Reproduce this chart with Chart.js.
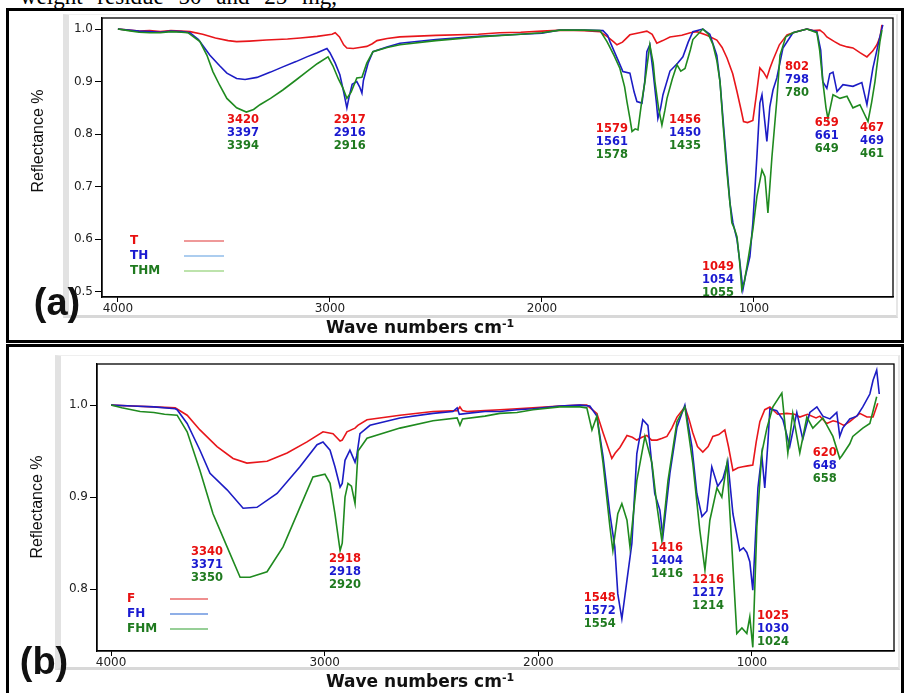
<!DOCTYPE html>
<html>
<head>
<meta charset="utf-8">
<script src="https://cdn.jsdelivr.net/npm/chart.js@4.4.0/dist/chart.umd.min.js"></script>
<style>
  body { margin:0; width:906px; height:693px; overflow:hidden; background:#fff; position:relative; font-family:"Liberation Sans", Arial, sans-serif; }
  .abs { position:absolute; }
  .box { position:absolute; border:3px solid #000; box-sizing:border-box; }
  .frame { position:absolute; background:#fff; box-sizing:border-box; border-left:6px solid #e2e2e2; border-bottom:3px solid #d8d8d8; border-top:1px solid #efefef; border-right:2px solid #e6e6e6; }
  .ytitle { position:absolute; font-size:16px; color:#111; transform:translate(-50%,-50%) rotate(-90deg); white-space:nowrap; }
  .xtitle { position:absolute; font-family:"DejaVu Sans"; font-weight:bold; font-size:17px; color:#111; transform:translate(-50%,-50%); white-space:nowrap; }
  .xtitle sup { font-size:11px; }
  .tag { position:absolute; font-weight:bold; font-size:38px; color:#111; transform:translate(-50%,-50%); }
  canvas { position:absolute; left:0; }
</style>
</head>
<body>
<div class="abs" style="left:20px;top:-16px;font-family:'Liberation Serif';font-size:23px;word-spacing:9px;">weight residue 50 and 25 mg,</div>
<div class="box" style="left:6px;top:8px;width:898px;height:335px;"></div>
<div class="box" style="left:6px;top:344px;width:898px;height:360px;"></div>
<div class="frame" style="left:63px;top:14px;width:835px;height:304px;"></div>
<div class="frame" style="left:55px;top:355px;width:845px;height:315px;"></div>
<canvas id="chartA" width="906" height="340" style="top:0"></canvas>
<canvas id="chartB" width="906" height="353" style="top:340px"></canvas>
<div class="ytitle" style="left:38px;top:141px;">Reflectance %</div>
<div class="ytitle" style="left:37px;top:507px;">Reflectance %</div>
<div class="xtitle" style="left:420px;top:327px;">Wave numbers cm<sup>-1</sup></div>
<div class="xtitle" style="left:420px;top:681px;">Wave numbers cm<sup>-1</sup></div>
<div class="tag" style="left:57px;top:302px;">(a)</div>
<div class="tag" style="left:44px;top:661px;">(b)</div>
<script>
// tick labels
var xTicks = [4000, 3000, 2000, 1000];
var yTicksA = [0.5, 0.6, 0.7, 0.8, 0.9, 1.0];
var yTicksB = [0.8, 0.9, 1.0];

// panel (a) spectra: [wavenumber, reflectance]
var T = [[4000,1.0],[3950,0.998],[3900,0.996],[3850,0.997],[3800,0.995],[3750,0.997],[3700,0.996],[3660,0.995],[3600,0.990],[3540,0.983],[3480,0.978],[3440,0.976],[3380,0.977],[3300,0.979],[3200,0.981],[3140,0.983],[3060,0.986],[2990,0.990],[2975,0.993],[2955,0.985],[2935,0.970],[2920,0.964],[2890,0.963],[2860,0.965],[2826,0.967],[2800,0.972],[2778,0.978],[2730,0.982],[2670,0.985],[2500,0.988],[2300,0.990],[2200,0.993],[2100,0.994],[2000,0.996],[1900,0.998],[1800,0.997],[1726,0.995],[1690,0.985],[1660,0.975],[1646,0.970],[1620,0.975],[1585,0.989],[1540,0.993],[1505,0.996],[1480,0.990],[1458,0.973],[1430,0.978],[1396,0.985],[1340,0.988],[1300,0.993],[1269,0.995],[1222,0.988],[1175,0.979],[1150,0.965],[1127,0.945],[1100,0.915],[1080,0.881],[1060,0.845],[1049,0.824],[1030,0.822],[1005,0.826],[990,0.870],[972,0.926],[955,0.918],[939,0.907],[925,0.925],[910,0.941],[880,0.970],[844,0.989],[800,0.995],[750,1.000],[720,0.997],[689,0.998],[670,0.992],[656,0.985],[620,0.976],[594,0.970],[560,0.966],[533,0.964],[500,0.955],[467,0.947],[440,0.958],[420,0.970],[405,0.985],[396,1.008]];
var TH = [[4000,1.0],[3950,0.998],[3900,0.996],[3850,0.995],[3800,0.994],[3750,0.996],[3700,0.995],[3660,0.993],[3620,0.980],[3566,0.950],[3520,0.930],[3486,0.916],[3440,0.906],[3400,0.904],[3344,0.908],[3280,0.918],[3222,0.928],[3160,0.938],[3109,0.947],[3060,0.955],[3014,0.963],[3000,0.955],[2975,0.935],[2953,0.913],[2935,0.880],[2920,0.850],[2910,0.870],[2895,0.895],[2873,0.900],[2860,0.890],[2849,0.878],[2842,0.902],[2820,0.935],[2797,0.957],[2731,0.966],[2670,0.973],[2500,0.980],[2300,0.986],[2100,0.990],[2000,0.992],[1915,0.998],[1800,0.998],[1712,0.997],[1690,0.988],[1679,0.976],[1640,0.940],[1618,0.919],[1585,0.916],[1565,0.880],[1552,0.862],[1528,0.859],[1515,0.900],[1505,0.957],[1491,0.970],[1476,0.920],[1460,0.860],[1453,0.830],[1440,0.850],[1429,0.875],[1396,0.920],[1360,0.935],[1335,0.947],[1310,0.975],[1288,0.995],[1241,1.000],[1208,0.990],[1175,0.950],[1160,0.900],[1140,0.800],[1113,0.669],[1099,0.631],[1080,0.600],[1066,0.555],[1052,0.504],[1040,0.530],[1019,0.567],[1005,0.631],[986,0.757],[972,0.859],[962,0.875],[948,0.821],[939,0.786],[925,0.852],[910,0.884],[892,0.907],[863,0.964],[816,0.993],[750,1.000],[703,0.995],[685,0.960],[675,0.900],[656,0.887],[642,0.915],[627,0.918],[608,0.881],[580,0.894],[533,0.891],[491,0.898],[467,0.856],[439,0.925],[406,0.985],[392,1.008]];
var THM = [[4000,1.0],[3950,0.997],[3900,0.994],[3850,0.993],[3800,0.993],[3750,0.995],[3700,0.994],[3670,0.993],[3613,0.976],[3580,0.950],[3552,0.919],[3520,0.893],[3486,0.868],[3440,0.850],[3394,0.842],[3360,0.847],[3330,0.856],[3280,0.868],[3222,0.884],[3160,0.903],[3109,0.919],[3060,0.934],[3009,0.947],[2986,0.930],[2960,0.905],[2939,0.888],[2920,0.868],[2900,0.880],[2873,0.907],[2849,0.908],[2826,0.935],[2797,0.957],[2730,0.965],[2670,0.970],[2500,0.978],[2300,0.985],[2100,0.990],[2000,0.993],[1915,0.998],[1800,0.998],[1726,0.997],[1693,0.976],[1660,0.950],[1632,0.925],[1610,0.890],[1599,0.862],[1585,0.830],[1575,0.805],[1560,0.810],[1547,0.808],[1530,0.860],[1514,0.900],[1491,0.970],[1475,0.935],[1467,0.900],[1450,0.850],[1434,0.817],[1420,0.845],[1410,0.868],[1385,0.905],[1363,0.932],[1345,0.920],[1325,0.925],[1300,0.960],[1288,0.980],[1241,1.000],[1215,0.990],[1193,0.970],[1175,0.940],[1160,0.900],[1146,0.821],[1127,0.726],[1104,0.631],[1092,0.620],[1080,0.605],[1068,0.560],[1057,0.504],[1045,0.520],[1033,0.548],[1005,0.618],[986,0.681],[962,0.732],[948,0.719],[934,0.650],[925,0.700],[915,0.757],[892,0.865],[877,0.950],[850,0.985],[816,0.993],[750,1.000],[703,0.993],[690,0.960],[675,0.900],[660,0.850],[651,0.830],[640,0.850],[627,0.875],[594,0.868],[561,0.872],[533,0.850],[500,0.856],[462,0.824],[445,0.860],[429,0.900],[406,0.975],[396,0.998]];

// panel (b) spectra
var F = [[4000,1.000],[3900,0.999],[3800,0.998],[3700,0.997],[3644,0.989],[3584,0.973],[3504,0.955],[3429,0.942],[3364,0.937],[3270,0.939],[3176,0.948],[3083,0.960],[3008,0.971],[2961,0.969],[2928,0.961],[2918,0.962],[2896,0.971],[2858,0.975],[2845,0.978],[2802,0.984],[2648,0.989],[2493,0.993],[2380,0.994],[2367,0.998],[2355,0.994],[2334,0.993],[2250,0.994],[2180,0.995],[2100,0.996],[2025,0.997],[1900,0.999],[1805,1.000],[1773,1.000],[1726,0.991],[1697,0.970],[1656,0.942],[1640,0.948],[1618,0.954],[1585,0.967],[1560,0.965],[1539,0.962],[1515,0.965],[1492,0.967],[1470,0.962],[1445,0.962],[1420,0.964],[1398,0.966],[1375,0.975],[1351,0.987],[1314,0.998],[1295,0.985],[1277,0.970],[1255,0.955],[1230,0.949],[1205,0.955],[1183,0.966],[1155,0.968],[1127,0.973],[1110,0.955],[1089,0.929],[1065,0.932],[1043,0.933],[1020,0.934],[996,0.935],[980,0.960],[963,0.982],[940,0.995],[916,0.998],[880,0.990],[837,0.991],[800,0.990],[776,0.987],[740,0.990],[700,0.986],[682,0.988],[650,0.980],[620,0.983],[603,0.982],[570,0.978],[542,0.982],[495,0.991],[462,0.987],[433,0.987],[411,1.002]];
var FH = [[4000,1.000],[3900,0.999],[3800,0.998],[3700,0.996],[3691,0.995],[3644,0.980],[3584,0.951],[3537,0.926],[3457,0.908],[3382,0.888],[3317,0.889],[3223,0.904],[3116,0.933],[3036,0.957],[3008,0.960],[2975,0.951],[2952,0.933],[2928,0.911],[2918,0.915],[2905,0.940],[2882,0.951],[2858,0.938],[2850,0.945],[2835,0.969],[2788,0.978],[2648,0.986],[2493,0.991],[2400,0.993],[2380,0.997],[2370,0.990],[2334,0.991],[2250,0.993],[2180,0.993],[2100,0.995],[2025,0.996],[1900,0.999],[1805,1.000],[1759,0.999],[1726,0.988],[1697,0.944],[1665,0.882],[1642,0.846],[1628,0.795],[1609,0.768],[1585,0.810],[1562,0.850],[1539,0.947],[1511,0.984],[1487,0.978],[1455,0.904],[1431,0.886],[1417,0.857],[1384,0.926],[1351,0.976],[1314,1.000],[1281,0.955],[1258,0.904],[1234,0.879],[1211,0.885],[1188,0.933],[1160,0.912],[1136,0.920],[1113,0.939],[1089,0.882],[1057,0.842],[1040,0.845],[1024,0.840],[1010,0.830],[996,0.799],[985,0.850],[972,0.910],[954,0.946],[940,0.910],[925,0.960],[916,0.996],[884,0.994],[855,0.984],[823,0.955],[790,0.992],[762,0.963],[729,0.992],[696,0.998],[668,0.988],[635,0.985],[603,0.992],[589,0.966],[575,0.975],[542,0.985],[509,0.988],[481,0.998],[448,1.012],[433,1.027],[416,1.038],[404,1.012]];
var FHM = [[4000,1.000],[3950,0.997],[3864,0.993],[3800,0.992],[3750,0.990],[3691,0.989],[3644,0.971],[3584,0.929],[3523,0.882],[3457,0.846],[3396,0.813],[3350,0.813],[3270,0.819],[3195,0.846],[3116,0.889],[3055,0.922],[2999,0.925],[2975,0.915],[2952,0.882],[2928,0.842],[2918,0.850],[2905,0.900],[2891,0.915],[2875,0.912],[2858,0.893],[2844,0.950],[2802,0.964],[2648,0.975],[2493,0.983],[2380,0.986],[2367,0.978],[2355,0.985],[2250,0.988],[2180,0.991],[2100,0.992],[2025,0.995],[1900,0.998],[1805,0.998],[1773,0.997],[1749,0.973],[1726,0.988],[1697,0.937],[1665,0.868],[1651,0.842],[1628,0.882],[1609,0.893],[1585,0.875],[1571,0.846],[1539,0.918],[1501,0.966],[1468,0.937],[1445,0.891],[1422,0.853],[1393,0.918],[1351,0.982],[1314,0.998],[1277,0.937],[1244,0.864],[1220,0.821],[1197,0.875],[1164,0.910],[1141,0.900],[1117,0.937],[1094,0.846],[1071,0.752],[1047,0.758],[1024,0.752],[1010,0.770],[996,0.737],[977,0.868],[954,0.948],[930,0.975],[902,0.998],[860,1.013],[832,0.948],[809,0.991],[776,0.948],[743,0.987],[715,0.975],[668,0.986],[621,0.966],[589,0.942],[579,0.945],[542,0.958],[528,0.966],[481,0.975],[448,0.980],[416,1.009]];

// peak labels: anchor (wavenumber, reflectance) and the three numbers
var peaksA = [
  {x:3410, y:0.827, t:['3420','3397','3394']},
  {x:2906, y:0.827, t:['2917','2916','2916']},
  {x:1670, y:0.810, t:['1579','1561','1578']},
  {x:1325, y:0.827, t:['1456','1450','1435']},
  {x:1170, y:0.548, t:['1049','1054','1055']},
  {x:797,  y:0.928, t:['802','798','780']},
  {x:656,  y:0.821, t:['659','661','649']},
  {x:443,  y:0.812, t:['467','469','461']}
];
var peaksB = [
  {x:3551, y:0.841, t:['3340','3371','3350']},
  {x:2905, y:0.833, t:['2918','2918','2920']},
  {x:1712, y:0.790, t:['1548','1572','1554']},
  {x:1398, y:0.845, t:['1416','1404','1416']},
  {x:1206, y:0.810, t:['1216','1217','1214']},
  {x:902,  y:0.771, t:['1025','1030','1024']},
  {x:659,  y:0.948, t:['620','648','658']}
];
var namesA = ['T', 'TH', 'THM'];
var namesB = ['F', 'FH', 'FHM'];

var textColors = ['#e81010', '#1a1ad0', '#1f7a1f'];
var lineColors = ['#e8161b', '#1c1cc4', '#1f8a1f'];

var decor = {
  id: 'decor',
  afterDatasetsDraw: function(chart, args, o) {
    var ctx = chart.ctx, a = chart.chartArea, xs = chart.scales.x, ys = chart.scales.y;
    ctx.save();
    ctx.strokeStyle = '#000';
    ctx.lineWidth = 1.3;
    ctx.strokeRect(a.left, a.top, a.right - a.left, a.bottom - a.top);
    ctx.font = 'bold 11.5px "DejaVu Sans"';
    ctx.textAlign = 'center';
    ctx.textBaseline = 'middle';
    o.peaks.forEach(function(p) {
      var px = xs.getPixelForValue(p.x), py = ys.getPixelForValue(p.y);
      p.t.forEach(function(s, i) {
        ctx.fillStyle = textColors[i];
        ctx.fillText(s, px, py + i * 13);
      });
    });
    // legend
    ctx.textAlign = 'left';
    ctx.font = 'bold 12px "DejaVu Sans"';
    o.names.forEach(function(n, i) {
      var y = a.bottom - o.legBottom + i * o.legStep;
      ctx.fillStyle = textColors[i];
      ctx.fillText(n, a.left + o.legText, y);
      ctx.strokeStyle = o.legColors[i];
      ctx.lineWidth = 1.2;
      ctx.beginPath();
      ctx.moveTo(a.left + o.legLine[0], y);
      ctx.lineTo(a.left + o.legLine[1], y);
      ctx.stroke();
    });
    ctx.restore();
  }
};

function makeChart(id, series, yTicks, xmin, xmax, ymin, ymax, pad, deco) {
  var sets = [];
  // draw green first, red last
  for (var i = series.length - 1; i >= 0; i--) {
    sets.push({
      data: series[i].map(function(p) { return {x: p[0], y: p[1]}; }),
      borderColor: lineColors[i],
      borderWidth: 1.6,
      pointRadius: 0,
      tension: 0,
      fill: false
    });
  }
  return new Chart(document.getElementById(id), {
    type: 'line',
    data: { datasets: sets },
    options: {
      responsive: false,
      animation: false,
      layout: { padding: pad },
      plugins: { legend: { display: false }, tooltip: { enabled: false }, decor: deco },
      scales: {
        x: {
          type: 'linear', reverse: true, min: xmin, max: xmax,
          afterBuildTicks: function(s) { s.ticks = xTicks.map(function(v) { return {value: v}; }); },
          afterFit: function(s) { s.height = 30; },
          grid: { display: true, drawOnChartArea: false, drawTicks: true, tickLength: 5, color: '#000' },
          border: { display: true, color: '#000', width: 1.3 },
          ticks: { color: '#222', font: { family: 'DejaVu Sans', size: 12 }, padding: 0, maxRotation: 0,
                   callback: function(v) { return String(v); } }
        },
        y: {
          min: ymin, max: ymax,
          afterBuildTicks: function(s) { s.ticks = yTicks.map(function(v) { return {value: v}; }); },
          afterFit: function(s) { s.width = 40; },
          grid: { display: true, drawOnChartArea: false, drawTicks: true, tickLength: 7, color: '#000' },
          border: { display: true, color: '#000', width: 1.3 },
          ticks: { color: '#222', font: { family: 'DejaVu Sans', size: 12 }, padding: 2,
                   callback: function(v) { return v.toFixed(1); } }
        }
      }
    },
    plugins: [decor]
  });
}

makeChart('chartA', [T, TH, THM], yTicksA, 344, 4075, 0.49, 1.021,
  { left: 62, right: 13, top: 18, bottom: 13 },
  { peaks: peaksA, names: namesA, legBottom: 56, legStep: 15, legText: 28, legLine: [82, 122],
    legColors: ['#e03535', '#5b9be0', '#7cc75a'] });

makeChart('chartB', [F, FH, FHM], yTicksB, 335, 4066, 0.733, 1.0446,
  { left: 57, right: 12, top: 24, bottom: 12 },
  { peaks: peaksB, names: namesB, legBottom: 52, legStep: 15, legText: 30, legLine: [73, 111],
    legColors: ['#e02020', '#2060d0', '#30a030'] });
</script>
</body>
</html>
